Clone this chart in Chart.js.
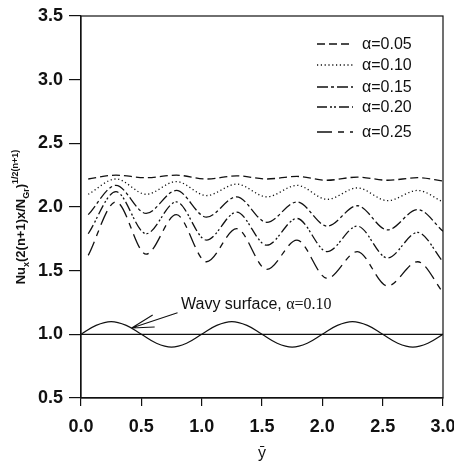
<!DOCTYPE html>
<html>
<head>
<meta charset="utf-8">
<script src="https://cdn.jsdelivr.net/npm/chart.js@4/dist/chart.umd.min.js"></script>
<style>
  html, body { margin: 0; padding: 0; background: #fff; }
  #wrap { width: 454px; height: 467px; }
</style>
</head>
<body>
<div id="wrap"><canvas id="nu"></canvas></div>
<script>
// local Nusselt number along the wavy plate
const alphaLabels = ["\u03b1=0.05", "\u03b1=0.10", "\u03b1=0.15", "\u03b1=0.20", "\u03b1=0.25"];
const nuX = [0.06, 0.29, 0.54, 0.79, 1.04, 1.29, 1.54, 1.79, 2.04, 2.29, 2.54, 2.79, 3.0];
const nu005 = [2.22, 2.25, 2.23, 2.25, 2.22, 2.245, 2.22, 2.24, 2.21, 2.235, 2.21, 2.23, 2.205];
const nu010 = [2.10, 2.22, 2.10, 2.20, 2.09, 2.18, 2.08, 2.17, 2.06, 2.15, 2.05, 2.13, 2.04];
const nu015 = [1.94, 2.17, 1.95, 2.13, 1.92, 2.08, 1.88, 2.04, 1.85, 2.01, 1.82, 1.98, 1.81];
const nu020 = [1.79, 2.12, 1.79, 2.04, 1.74, 1.96, 1.70, 1.91, 1.65, 1.85, 1.60, 1.80, 1.57];
const nu025 = [1.62, 2.04, 1.63, 1.94, 1.57, 1.83, 1.51, 1.74, 1.44, 1.65, 1.38, 1.57, 1.33];

// surface shape, alpha = 0.10
const surfX = [0, 0.125, 0.25, 0.375, 0.5, 0.625, 0.75, 0.875, 1.0, 1.125, 1.25, 1.375, 1.5,
               1.625, 1.75, 1.875, 2.0, 2.125, 2.25, 2.375, 2.5, 2.625, 2.75, 2.875, 3.0];
const surfY = [1.00, 1.07, 1.10, 1.07, 1.00, 0.93, 0.90, 0.93, 1.00, 1.07, 1.10, 1.07, 1.00,
               0.93, 0.90, 0.93, 1.00, 1.07, 1.10, 1.07, 1.00, 0.93, 0.90, 0.93, 1.00];
const flatX = [0, 3.0];
const flatY = [1.0, 1.0];

const yTicks = [0.5, 1.0, 1.5, 2.0, 2.5, 3.0, 3.5];
const xTicks = [0, 0.5, 1.0, 1.5, 2.0, 2.5, 3.0];

const ink = "#111";
const dashes = [[8, 4], [1.2, 2.6], [11, 3, 3, 3], [10, 3, 2, 2, 2, 3], [15, 6, 6, 6]];
const nuSeries = [nu005, nu010, nu015, nu020, nu025];

const pts = (xs, ys) => xs.map((x, i) => ({ x: x, y: ys[i] }));

const datasets = nuSeries.map((ys, i) => ({
  label: alphaLabels[i],
  data: pts(nuX, ys),
  borderColor: ink,
  borderWidth: 1.3,
  borderDash: dashes[i],
  pointRadius: 0,
  cubicInterpolationMode: "monotone",
  fill: false
}));
datasets.push({
  label: "surface",
  data: pts(surfX, surfY),
  borderColor: ink,
  borderWidth: 1.2,
  pointRadius: 0,
  tension: 0.4,
  fill: false
});
datasets.push({
  label: "flat",
  data: pts(flatX, flatY),
  borderColor: ink,
  borderWidth: 1.2,
  pointRadius: 0,
  fill: false
});

// frame, legend, annotation and y title
const extras = {
  id: "extras",
  afterDraw(chart) {
    const ctx = chart.ctx;
    const a = chart.chartArea;
    const xs = chart.scales.x, ys = chart.scales.y;
    ctx.save();
    ctx.strokeStyle = ink;
    ctx.lineWidth = 1.2;
    ctx.strokeRect(a.left, a.top, a.right - a.left, a.bottom - a.top);

    // legend
    const rows = [44, 65, 87, 107, 132];
    ctx.font = "16px 'Liberation Sans', Arial, sans-serif";
    ctx.textBaseline = "middle";
    ctx.fillStyle = ink;
    rows.forEach((y, i) => {
      ctx.beginPath();
      ctx.setLineDash(dashes[i]);
      ctx.lineWidth = 1.3;
      ctx.moveTo(317, y);
      ctx.lineTo(353, y);
      ctx.stroke();
      ctx.setLineDash([]);
      ctx.fillText(alphaLabels[i], 362, y + 1);
    });

    // annotation with arrow
    const tipX = xs.getPixelForValue(0.42), tipY = ys.getPixelForValue(1.05);
    const tailX = xs.getPixelForValue(0.80), tailY = ys.getPixelForValue(1.17);
    ctx.lineWidth = 1.1;
    ctx.beginPath();
    ctx.moveTo(tailX, tailY);
    ctx.lineTo(tipX, tipY);
    ctx.moveTo(tipX, tipY);
    ctx.lineTo(tipX + 21, tipY - 13);
    ctx.moveTo(tipX, tipY);
    ctx.lineTo(tipX + 23, tipY - 1);
    ctx.stroke();
    ctx.textBaseline = "alphabetic";
    ctx.font = "16px 'Liberation Sans', Arial, sans-serif";
    const t1 = "Wavy surface, ";
    ctx.fillText(t1, 181, 309);
    const w1 = ctx.measureText(t1).width;
    ctx.font = "16px 'Liberation Serif', 'Times New Roman', serif";
    ctx.fillText("\u03b1=0.10", 181 + w1, 309);

    // rotated y-axis title with sub/superscripts
    ctx.translate(21, 217);
    ctx.rotate(-Math.PI / 2);
    const parts = [
      ["Nu", 0, 13], ["x", 4, 9], ["(2(n+1)x/N", 0, 13], ["Gr", 4, 9], [")", 0, 13], ["1/2(n+1)", -7, 9]
    ];
    let total = 0;
    parts.forEach(p => {
      ctx.font = "bold " + p[2] + "px 'Liberation Sans', Arial, sans-serif";
      total += ctx.measureText(p[0]).width;
    });
    let cx = -total / 2;
    parts.forEach(p => {
      ctx.font = "bold " + p[2] + "px 'Liberation Sans', Arial, sans-serif";
      ctx.fillText(p[0], cx, p[1] + 4);
      cx += ctx.measureText(p[0]).width;
    });
    ctx.restore();
  }
};

const tickFont = { family: "'Liberation Sans', Arial, sans-serif", size: 18, weight: "bold" };

new Chart(document.getElementById("nu"), {
  type: "line",
  data: { datasets: datasets },
  options: {
    responsive: true,
    maintainAspectRatio: false,
    animation: false,
    events: [],
    layout: { padding: { top: 16, right: 11, left: 0, bottom: 0 } },
    plugins: { legend: { display: false }, tooltip: { enabled: false } },
    scales: {
      x: {
        type: "linear",
        min: 0, max: 3.0,
        afterBuildTicks: s => { s.ticks = xTicks.map(v => ({ value: v })); },
        afterFit: s => { s.height = 69; s.paddingLeft = 0; s.paddingRight = 0; },
        ticks: { color: ink, font: tickFont, padding: 10, maxRotation: 0, callback: v => v.toFixed(1) },
        grid: { drawOnChartArea: false, drawTicks: true, tickLength: 8, color: ink, lineWidth: 1.2 },
        border: { color: ink, width: 1.2 },
        title: { display: true, text: "\u0233", color: ink, font: { family: "'Liberation Sans', Arial, sans-serif", size: 16 }, padding: { top: 9 } }
      },
      y: {
        type: "linear",
        min: 0.5, max: 3.5,
        afterBuildTicks: s => { s.ticks = yTicks.map(v => ({ value: v })); },
        afterFit: s => { s.width = 81; s.paddingTop = 0; s.paddingBottom = 0; },
        ticks: { color: ink, font: tickFont, padding: 6, callback: v => v.toFixed(1) },
        grid: { drawOnChartArea: false, drawTicks: true, tickLength: 12, color: ink, lineWidth: 1.2 },
        border: { color: ink, width: 1.2 }
      }
    }
  },
  plugins: [extras]
});
</script>
</body>
</html>
